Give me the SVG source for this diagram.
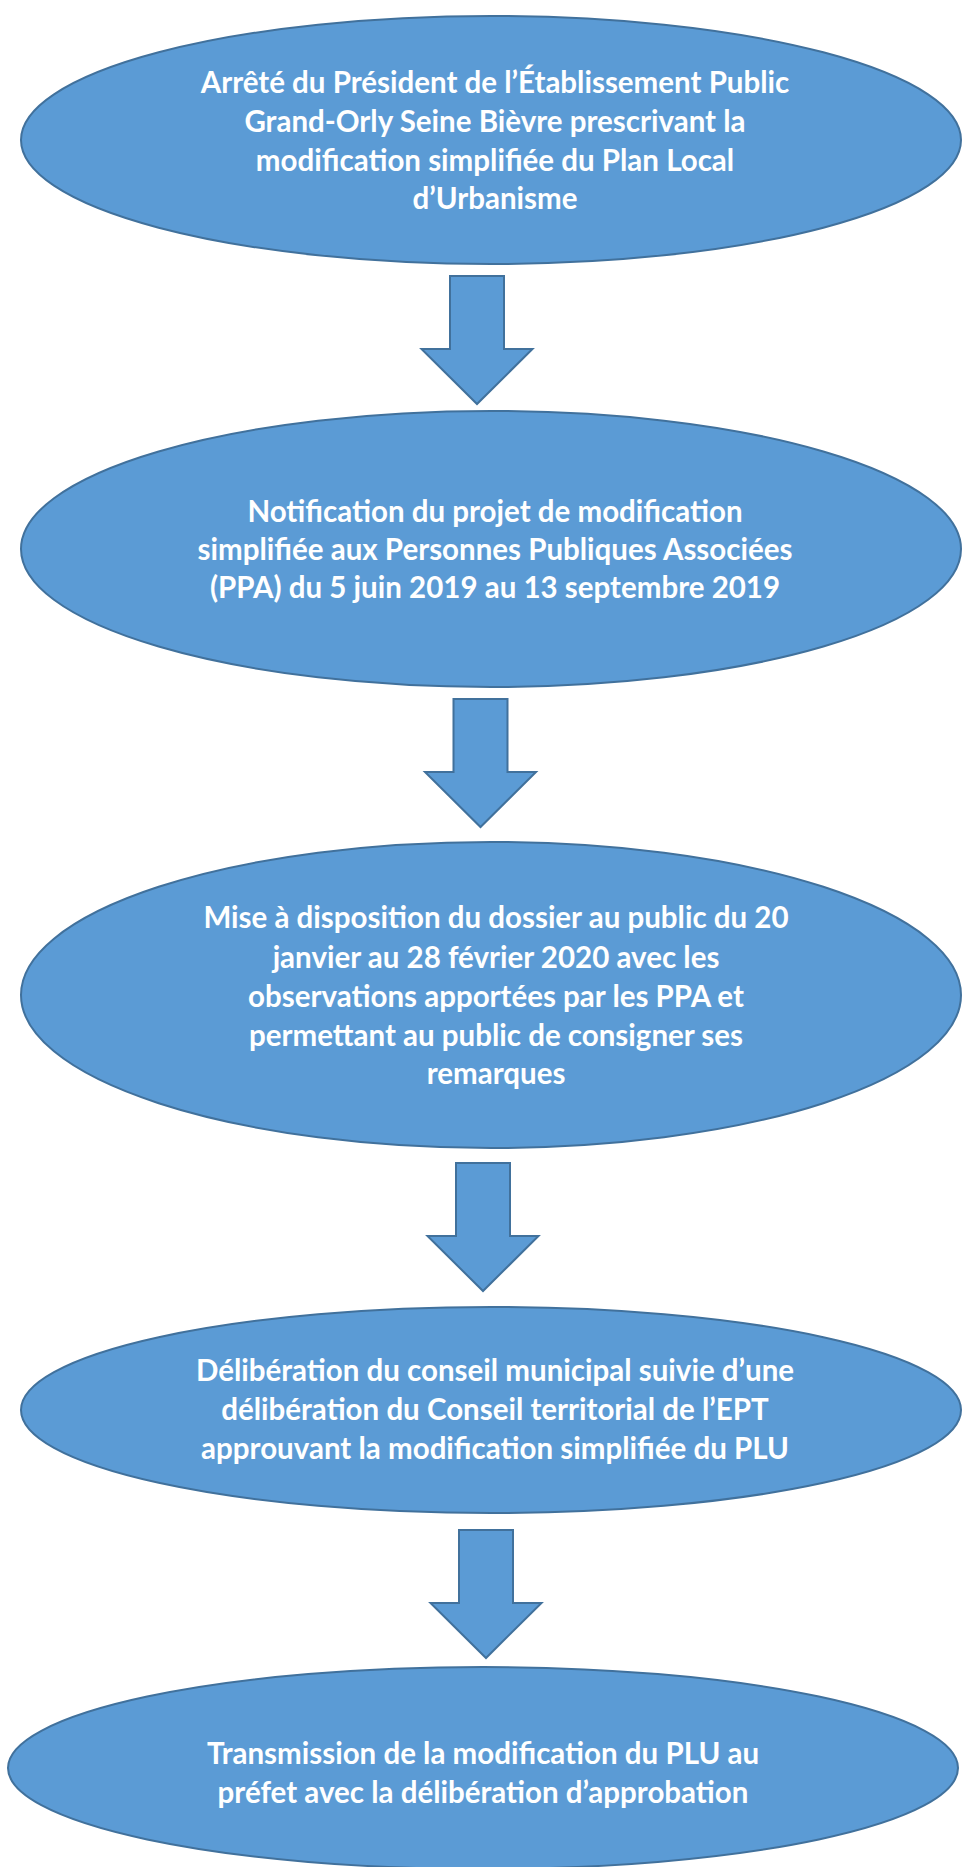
<svg xmlns="http://www.w3.org/2000/svg" width="962" height="1867" viewBox="0 0 962 1867">
  <style>
    .node { fill: #5B9BD5; stroke: #41719C; stroke-width: 2; }
    .arrow { fill: #5B9BD5; stroke: #41719C; stroke-width: 2; stroke-linejoin: miter; }
    .label { font-family: Lato, "Liberation Sans", sans-serif; font-weight: bold; font-size: 29.5px; fill: #FFFFFF; text-anchor: middle; }
  </style>
  <defs>
    <path id="downArrow" d="M-27,0 H27 V73 H55.5 L0,128 L-55.5,73 H-27 Z"/>
  </defs>
  <rect x="0" y="0" width="962" height="1867" fill="#FFFFFF"/>

  <g id="connectors">
    <use href="#downArrow" class="arrow" transform="translate(477,276)"/>
    <use href="#downArrow" class="arrow" transform="translate(480.5,699)"/>
    <use href="#downArrow" class="arrow" transform="translate(483,1163)"/>
    <use href="#downArrow" class="arrow" transform="translate(486,1530)"/>
  </g>

  <g id="node1">
    <ellipse class="node" cx="491" cy="140" rx="470" ry="124"/>
    <text class="label" x="495" y="93">Arrêté du Président de l’Établissement Public</text>
    <text class="label" x="495" y="132">Grand-Orly Seine Bièvre prescrivant la</text>
    <text class="label" x="495" y="171">modification simplifiée du Plan Local</text>
    <text class="label" x="495" y="209">d’Urbanisme</text>
  </g>

  <g id="node2">
    <ellipse class="node" cx="491" cy="549" rx="470" ry="138"/>
    <text class="label" x="495" y="522">Notification du projet de modification</text>
    <text class="label" x="495" y="560">simplifiée aux Personnes Publiques Associées</text>
    <text class="label" x="495" y="598">(PPA) du 5 juin 2019 au 13 septembre 2019</text>
  </g>

  <g id="node3">
    <ellipse class="node" cx="491" cy="995" rx="470" ry="153"/>
    <text class="label" x="496" y="928">Mise à disposition du dossier au public du 20</text>
    <text class="label" x="496" y="968">janvier au 28 février 2020 avec les</text>
    <text class="label" x="496" y="1007">observations apportées par les PPA et</text>
    <text class="label" x="496" y="1046">permettant au public de consigner ses</text>
    <text class="label" x="496" y="1084">remarques</text>
  </g>

  <g id="node4">
    <ellipse class="node" cx="491" cy="1410" rx="470" ry="103"/>
    <text class="label" x="495" y="1381">Délibération du conseil municipal suivie d’une</text>
    <text class="label" x="495" y="1420">délibération du Conseil territorial de l’EPT</text>
    <text class="label" x="495" y="1459">approuvant la modification simplifiée du PLU</text>
  </g>

  <g id="node5">
    <ellipse class="node" cx="483" cy="1768" rx="475" ry="101"/>
    <text class="label" x="483" y="1764">Transmission de la modification du PLU au</text>
    <text class="label" x="483" y="1803">préfet avec la délibération d’approbation</text>
  </g>
</svg>
